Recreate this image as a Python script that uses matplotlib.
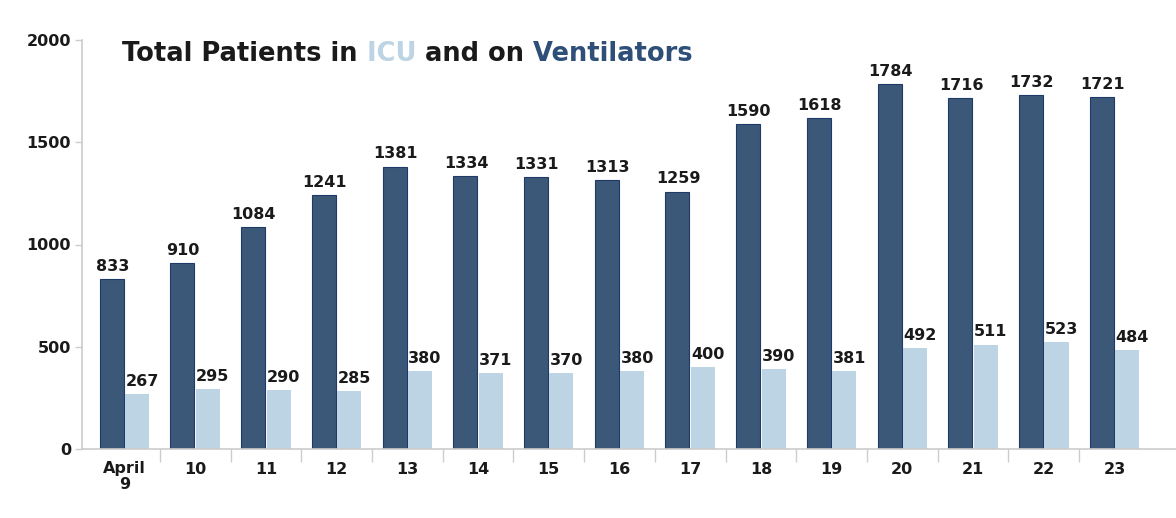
import matplotlib
matplotlib.use("Agg")
import matplotlib.pyplot as plt
import numpy as np

days = ["April\n9", "10", "11", "12", "13", "14", "15", "16", "17",
        "18", "19", "20", "21", "22", "23"]
ventilators = [833, 910, 1084, 1241, 1381, 1334, 1331, 1313, 1259,
               1590, 1618, 1784, 1716, 1732, 1721]
icu = [267, 295, 290, 285, 380, 371, 370, 380, 400,
       390, 381, 492, 511, 523, 484]

DARK = "#3b5878"
DARK_EDGE = "#1f3a68"
LIGHT = "#bcd4e4"
TITLE_DARK = "#2e4f77"
TEXT = "#1a1a1a"
GRID = "#cccccc"

plt.rcParams["font.family"] = ["DejaVu Sans"]


def main():
    fig = plt.figure(figsize=(11.76, 5.18), dpi=100)
    ax = fig.add_axes([82 / 1176, 69 / 518, 1 - 82 / 1176, 409 / 518])

    x = np.arange(len(days))
    w = 0.34
    ax.bar(x - 0.18, ventilators, w, color=DARK, edgecolor=DARK_EDGE, linewidth=0.8)
    ax.bar(x + 0.18, icu, w, color=LIGHT, edgecolor="none")

    for xi, v in zip(x, ventilators):
        ax.text(xi - 0.17, v + 25, str(v), ha="center", va="bottom",
                fontsize=11.5, fontweight="bold", color=TEXT)
    for xi, v in zip(x, icu):
        ax.text(xi + 0.25, v + 25, str(v), ha="center", va="bottom",
                fontsize=11.5, fontweight="bold", color=TEXT)

    ax.set_xlim(-0.6, 14.87)
    ax.set_ylim(0, 2000)
    ax.set_yticks([0, 500, 1000, 1500, 2000])
    ax.set_xticks(x)
    ax.set_xticklabels(days, fontsize=11.5, fontweight="bold", color=TEXT,
                       linespacing=1.05)
    ax.set_xticks(x[:-1] + 0.5, minor=True)
    for lab in ax.get_yticklabels():
        lab.set_fontweight("bold")
        lab.set_fontsize(11.5)
        lab.set_color(TEXT)

    ax.tick_params(axis="x", which="major", length=0, pad=9)
    ax.tick_params(axis="x", which="minor", length=9, color=GRID, width=1)
    ax.tick_params(axis="y", length=5, color=GRID, width=1, pad=3)

    for side in ["top", "right"]:
        ax.spines[side].set_visible(False)
    for side in ["left", "bottom"]:
        ax.spines[side].set_color(GRID)
        ax.spines[side].set_linewidth(1.2)

    # title in coloured pieces, laid out one after the other
    pieces = [("Total Patients in", TEXT), (" ICU", LIGHT),
              (" and on", TEXT), (" Ventilators", TITLE_DARK)]
    y_title = 1 - 67 / 518
    texts = [fig.text(122 / 1176, y_title, txt, fontsize=18.5, fontweight="bold",
                      color=col, va="bottom", ha="left")
             for txt, col in pieces]

    fig.canvas.draw()
    r = fig.canvas.get_renderer()
    x0 = texts[0].get_window_extent(r).x1
    for t in texts[1:]:
        t.set_x(x0 / fig.bbox.width)
        x0 = t.get_window_extent(r).x1

    fig.savefig("out.png", dpi=100)
    plt.close(fig)


if __name__ == "__main__":
    main()
